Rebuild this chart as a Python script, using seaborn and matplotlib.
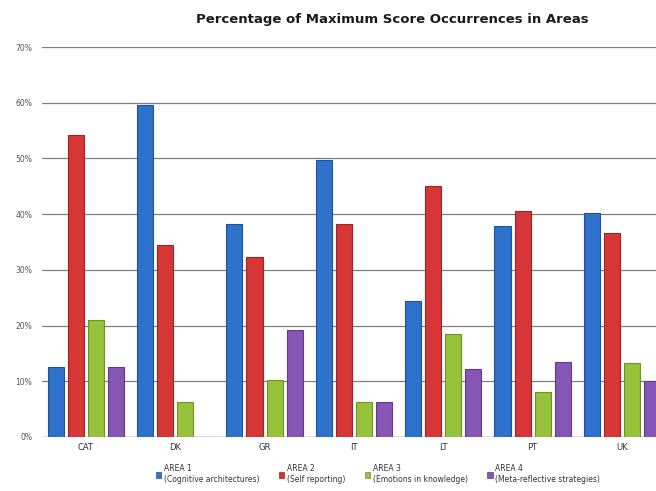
#!/usr/bin/env python3
"""Percentage of maximum score occurrences per area, grouped by country."""

import matplotlib

matplotlib.use("Agg")
import matplotlib.pyplot as plt
import pandas as pd
import seaborn as sns
from matplotlib.patches import Patch
from matplotlib.ticker import FuncFormatter, MultipleLocator

COUNTRIES = ["CAT", "DK", "GR", "IT", "LT", "PT", "UK"]
AREAS = ["AREA 1", "AREA 2", "AREA 3", "AREA 4"]
AREA_NOTES = [
    "(Cognitive architectures)",
    "(Self reporting)",
    "(Emotions in knowledge)",
    "(Meta-reflective strategies)",
]
AREA1 = [12.6, 59.6, 38.2, 49.7, 24.4, 37.9, 40.2]
AREA2 = [54.2, 34.4, 32.3, 38.2, 45.0, 40.6, 36.6]
AREA3 = [21.0, 6.2, 10.3, 6.2, 18.5, 8.1, 13.3]
AREA4 = [12.6, 0.0, 19.2, 6.2, 12.2, 13.5, 10.0]

PALETTE = ["#2f72cc", "#d63636", "#97c23c", "#8656b4"]
EDGES = ["#1f5299", "#9c2424", "#6f9226", "#5f3b85"]


def main() -> None:
    sns.set_theme(style="white")
    plt.rcParams["font.family"] = ["DejaVu Sans"]

    rows = []
    for area, vals in zip(AREAS, [AREA1, AREA2, AREA3, AREA4]):
        for country, v in zip(COUNTRIES, vals):
            rows.append({"Country": country, "Area": area, "Value": v})
    df = pd.DataFrame(rows)

    fig = plt.figure(figsize=(6.56, 4.91), dpi=100)
    ax = fig.add_axes([42 / 656, 1 - 437 / 491, 1 - 42 / 656, (437 - 47) / 491])

    sns.barplot(
        data=df,
        x="Country",
        y="Value",
        hue="Area",
        order=COUNTRIES,
        hue_order=AREAS,
        palette=PALETTE,
        saturation=1,
        width=0.9,
        gap=0.2,
        errorbar=None,
        legend=False,
        ax=ax,
        zorder=3,
    )
    # darker rim to hint at the cylinder shading of the original
    for container, edge in zip(ax.containers, EDGES):
        for bar in container:
            bar.set_edgecolor(edge)
            bar.set_linewidth(0.8)

    ax.set_xlim(-0.49, 6.38)
    ax.set_ylim(0, 70)
    ax.yaxis.set_major_locator(MultipleLocator(10))
    ax.yaxis.set_major_formatter(FuncFormatter(lambda v, _: f"{v:.0f}%"))
    ax.grid(True, axis="y", color="#7f7f7f", linewidth=0.9, zorder=0)
    ax.grid(False, axis="x")
    ax.set_axisbelow(True)
    for side in ["top", "right", "left", "bottom"]:
        ax.spines[side].set_visible(False)
    ax.axhline(0, color="#7f7f7f", linewidth=0.9, zorder=1)
    ax.set_xlabel("")
    ax.set_ylabel("")
    ax.tick_params(axis="y", labelsize=5.5, labelcolor="#555555", length=0, pad=7)
    ax.tick_params(axis="x", labelsize=6, labelcolor="#333333", length=0, pad=4)

    fig.text(
        392 / 656,
        1 - 20 / 491,
        "Percentage of Maximum Score Occurrences in Areas",
        ha="center",
        va="center",
        fontsize=9.5,
        fontweight="bold",
        color="#1a1a1a",
    )

    handles = [Patch(facecolor=c, edgecolor=e, linewidth=0.5) for c, e in zip(PALETTE, EDGES)]
    labels = [f"{a}\n{n}" for a, n in zip(AREAS, AREA_NOTES)]
    fig.legend(
        handles,
        labels,
        ncol=4,
        loc="center",
        bbox_to_anchor=(378 / 656, 1 - 474 / 491),
        frameon=False,
        fontsize=5.5,
        handlelength=0.7,
        handleheight=0.7,
        handletextpad=0.3,
        columnspacing=2.6,
        labelcolor="#333333",
    )

    fig.savefig("out.png", dpi=100, facecolor="white")
    plt.close(fig)


if __name__ == "__main__":
    main()
